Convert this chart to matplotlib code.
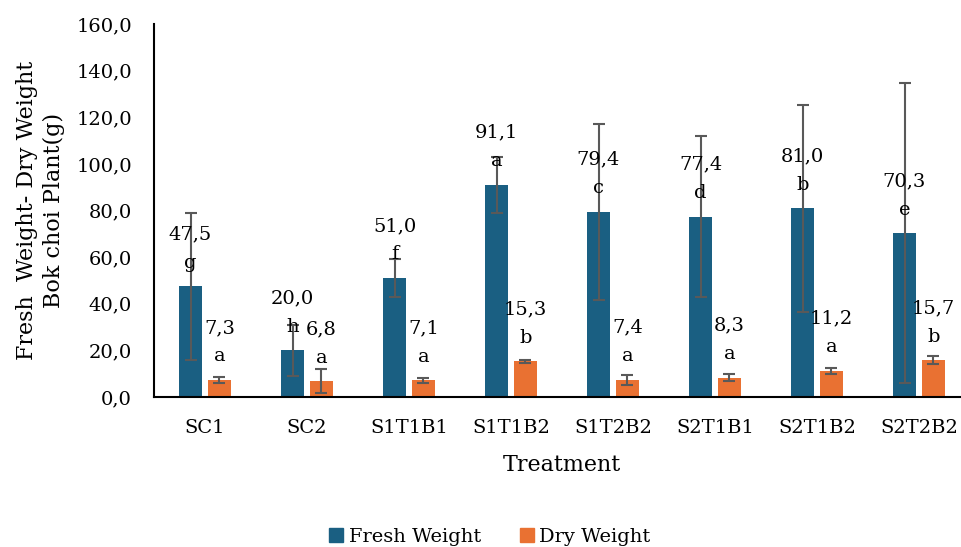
import numpy as np
import matplotlib
matplotlib.use('agg')
import matplotlib.pyplot as plt
from matplotlib.patches import Patch

plt.rcParams['font.family'] = ['DejaVu Serif']

treatments = ['SC1', 'SC2', 'S1T1B1', 'S1T1B2', 'S1T2B2', 'S2T1B1', 'S2T1B2', 'S2T2B2']
fresh = [47.5, 20.0, 51.0, 91.1, 79.4, 77.4, 81.0, 70.3]
fresh_err = [31.6, 11.0, 8.3, 12.0, 37.9, 34.6, 44.4, 64.4]
fresh_letters = ['g', 'h', 'f', 'a', 'c', 'd', 'b', 'e']
dry = [7.3, 6.8, 7.1, 15.3, 7.4, 8.3, 11.2, 15.7]
dry_err = [1.2, 5.0, 1.0, 0.6, 2.1, 1.5, 1.4, 1.7]
dry_letters = ['a', 'a', 'a', 'b', 'a', 'a', 'a', 'b']

c_fresh = '#1A5F82'
c_dry = '#E97132'
c_err = '#595959'

fig = plt.figure(figsize=(9.61, 5.47), dpi=100)
ax = fig.add_axes([154/961, 1-397/547, 816/961, 373/547])

x = np.arange(len(treatments))
w = 0.225
off = 0.142
ekw = dict(ecolor=c_err, elinewidth=1.5, capsize=4.5, capthick=1.5)
ax.bar(x-off, fresh, w, color=c_fresh, yerr=fresh_err, error_kw=ekw, label='Fresh Weight')
ax.bar(x+off, dry, w, color=c_dry, yerr=dry_err, error_kw=ekw, label='Dry Weight')

fmt = lambda v: f'{v:.1f}'.replace('.', ',')
for xs, vals, lets in [(x-off, fresh, fresh_letters), (x+off, dry, dry_letters)]:
    for xi, v, l in zip(xs, vals, lets):
        ax.annotate(fmt(v), (xi, v), xytext=(0, 37.5), textcoords='offset points',
                    ha='center', va='center', fontsize=14)
        ax.annotate(l, (xi, v), xytext=(0, 17), textcoords='offset points',
                    ha='center', va='center', fontsize=14)

ax.set_xlim(-0.5, len(treatments)-0.5)
ax.set_ylim(0, 160)
ax.set_yticks(np.arange(0, 161, 20))
ax.set_yticklabels([fmt(t) for t in np.arange(0, 161, 20)])
ax.set_xticks(x)
ax.set_xticklabels(treatments)
ax.tick_params(axis='y', length=0, pad=16, labelsize=14)
ax.tick_params(axis='x', length=0, pad=16, labelsize=14)
for s in ['top', 'right']:
    ax.spines[s].set_visible(False)
for s in ['left', 'bottom']:
    ax.spines[s].set_linewidth(1.5)
    ax.spines[s].set_color('black')

ax.set_ylabel('Fresh  Weight- Dry Weight\nBok choi Plant(g)', fontsize=16, linespacing=1.3)
ax.yaxis.set_label_coords(-89/816, 0.5)
fig.text(562/961, 1-465/547, 'Treatment', ha='center', va='center', fontsize=16)

handles = [Patch(color=c_fresh, label='Fresh Weight'), Patch(color=c_dry, label='Dry Weight')]
fig.legend(handles=handles, loc='center', bbox_to_anchor=(490/961, 1-537/547), ncol=2,
           frameon=False, fontsize=14, handlelength=0.7, handleheight=0.7,
           handletextpad=0.3, columnspacing=2.0)

fig.savefig('out.png', dpi=100)
